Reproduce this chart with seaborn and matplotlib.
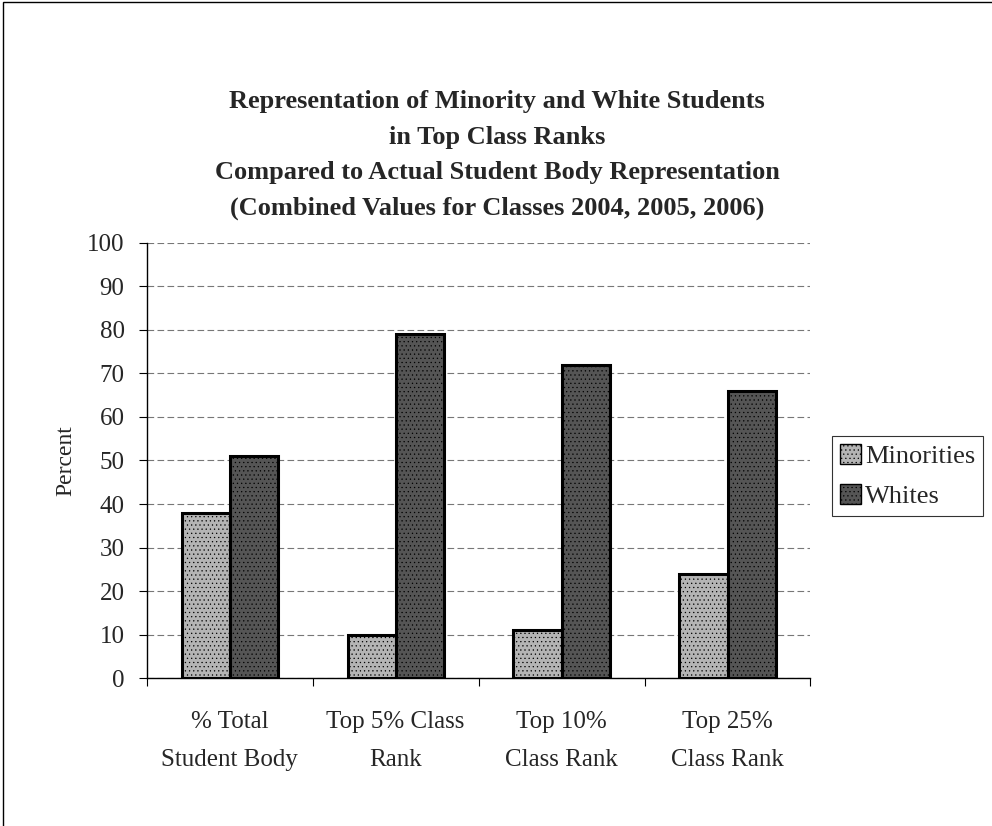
import matplotlib
matplotlib.use("Agg")
import matplotlib.pyplot as plt
import seaborn as sns
import pandas as pd
from matplotlib.patches import Rectangle

categories = ["% Total\nStudent Body", "Top 5% Class\nRank", "Top 10%\nClass Rank", "Top 25%\nClass Rank"]
groups = ["Minorities", "Whites"]
minorities = [38, 10, 11, 24]
whites = [51, 79, 72, 66]
y_ticks = [0, 10, 20, 30, 40, 50, 60, 70, 80, 90, 100]

df = pd.DataFrame({
    "category": categories * 2,
    "group": [groups[0]] * 4 + [groups[1]] * 4,
    "value": minorities + whites,
})

sns.set_theme(style="white")
plt.rcParams["font.family"] = ["Liberation Serif", "DejaVu Serif"]
plt.rcParams["hatch.color"] = "#ffffff"
plt.rcParams["hatch.linewidth"] = 0.4

fig = plt.figure(figsize=(9.92, 8.26), dpi=100)
ax = fig.add_axes([0.148, 0.179, 0.669, 0.527])

palette = {"Minorities": "#b4b4b4", "Whites": "#555555"}
sns.barplot(data=df, x="category", y="value", hue="group", order=categories,
            hue_order=groups, palette=palette, width=0.58, ax=ax,
            edgecolor="black", linewidth=2.2, legend=False, saturation=1)

for bar in ax.patches:
    bar.set_hatch("....")

ax.set_ylim(0, 100)
ax.set_xlim(-0.5, 3.5)
ax.set_yticks(y_ticks)
ax.set_yticklabels([str(t) for t in y_ticks], fontsize=18)
ax.set_xticks(range(4))
ax.set_xticklabels(categories, fontsize=18, linespacing=1.9)
ax.set_xticks([-0.5, 0.5, 1.5, 2.5, 3.5], minor=True)
ax.tick_params(axis="x", which="major", length=0, pad=24)
ax.tick_params(axis="x", which="minor", length=6, width=0.8, color="black", direction="out", bottom=True)
ax.tick_params(axis="y", length=6, width=0.8, color="black", direction="out", left=True, pad=10)
ax.set_xlabel("")
ax.set_ylabel("Percent", fontsize=17, labelpad=8)

ax.yaxis.grid(True, linestyle=(0, (6, 3)), color="#777777", linewidth=0.8)
ax.set_axisbelow(True)
for side in ["top", "right"]:
    ax.spines[side].set_visible(False)
for side in ["left", "bottom"]:
    ax.spines[side].set_color("black")
    ax.spines[side].set_linewidth(1.0)

title = ("Representation of Minority and White Students\n"
         "in Top Class Ranks\n"
         "Compared to Actual Student Body Representation\n"
         "(Combined Values for Classes 2004, 2005, 2006)")
fig.text(0.501, 0.891, title, ha="center", va="top", fontsize=19,
         fontweight="bold", linespacing=1.7)

handles = [Rectangle((0, 0), 1, 1, facecolor=palette[g], edgecolor="black",
                     hatch="....", linewidth=1.0) for g in groups]
leg = fig.legend(handles, groups, loc="center left", bbox_to_anchor=(0.839, 0.424),
                 fontsize=19, frameon=True, fancybox=False, edgecolor="black",
                 handlelength=0.8, handleheight=0.8, handletextpad=0.15,
                 labelspacing=0.6, borderpad=0.3, borderaxespad=0)
leg.get_frame().set_linewidth(0.8)

fig.patches.append(Rectangle((0.003, -0.01), 1.1, 1.007, transform=fig.transFigure,
                             fill=False, edgecolor="black", linewidth=1.0))

fig.savefig("out.png", dpi=100)
